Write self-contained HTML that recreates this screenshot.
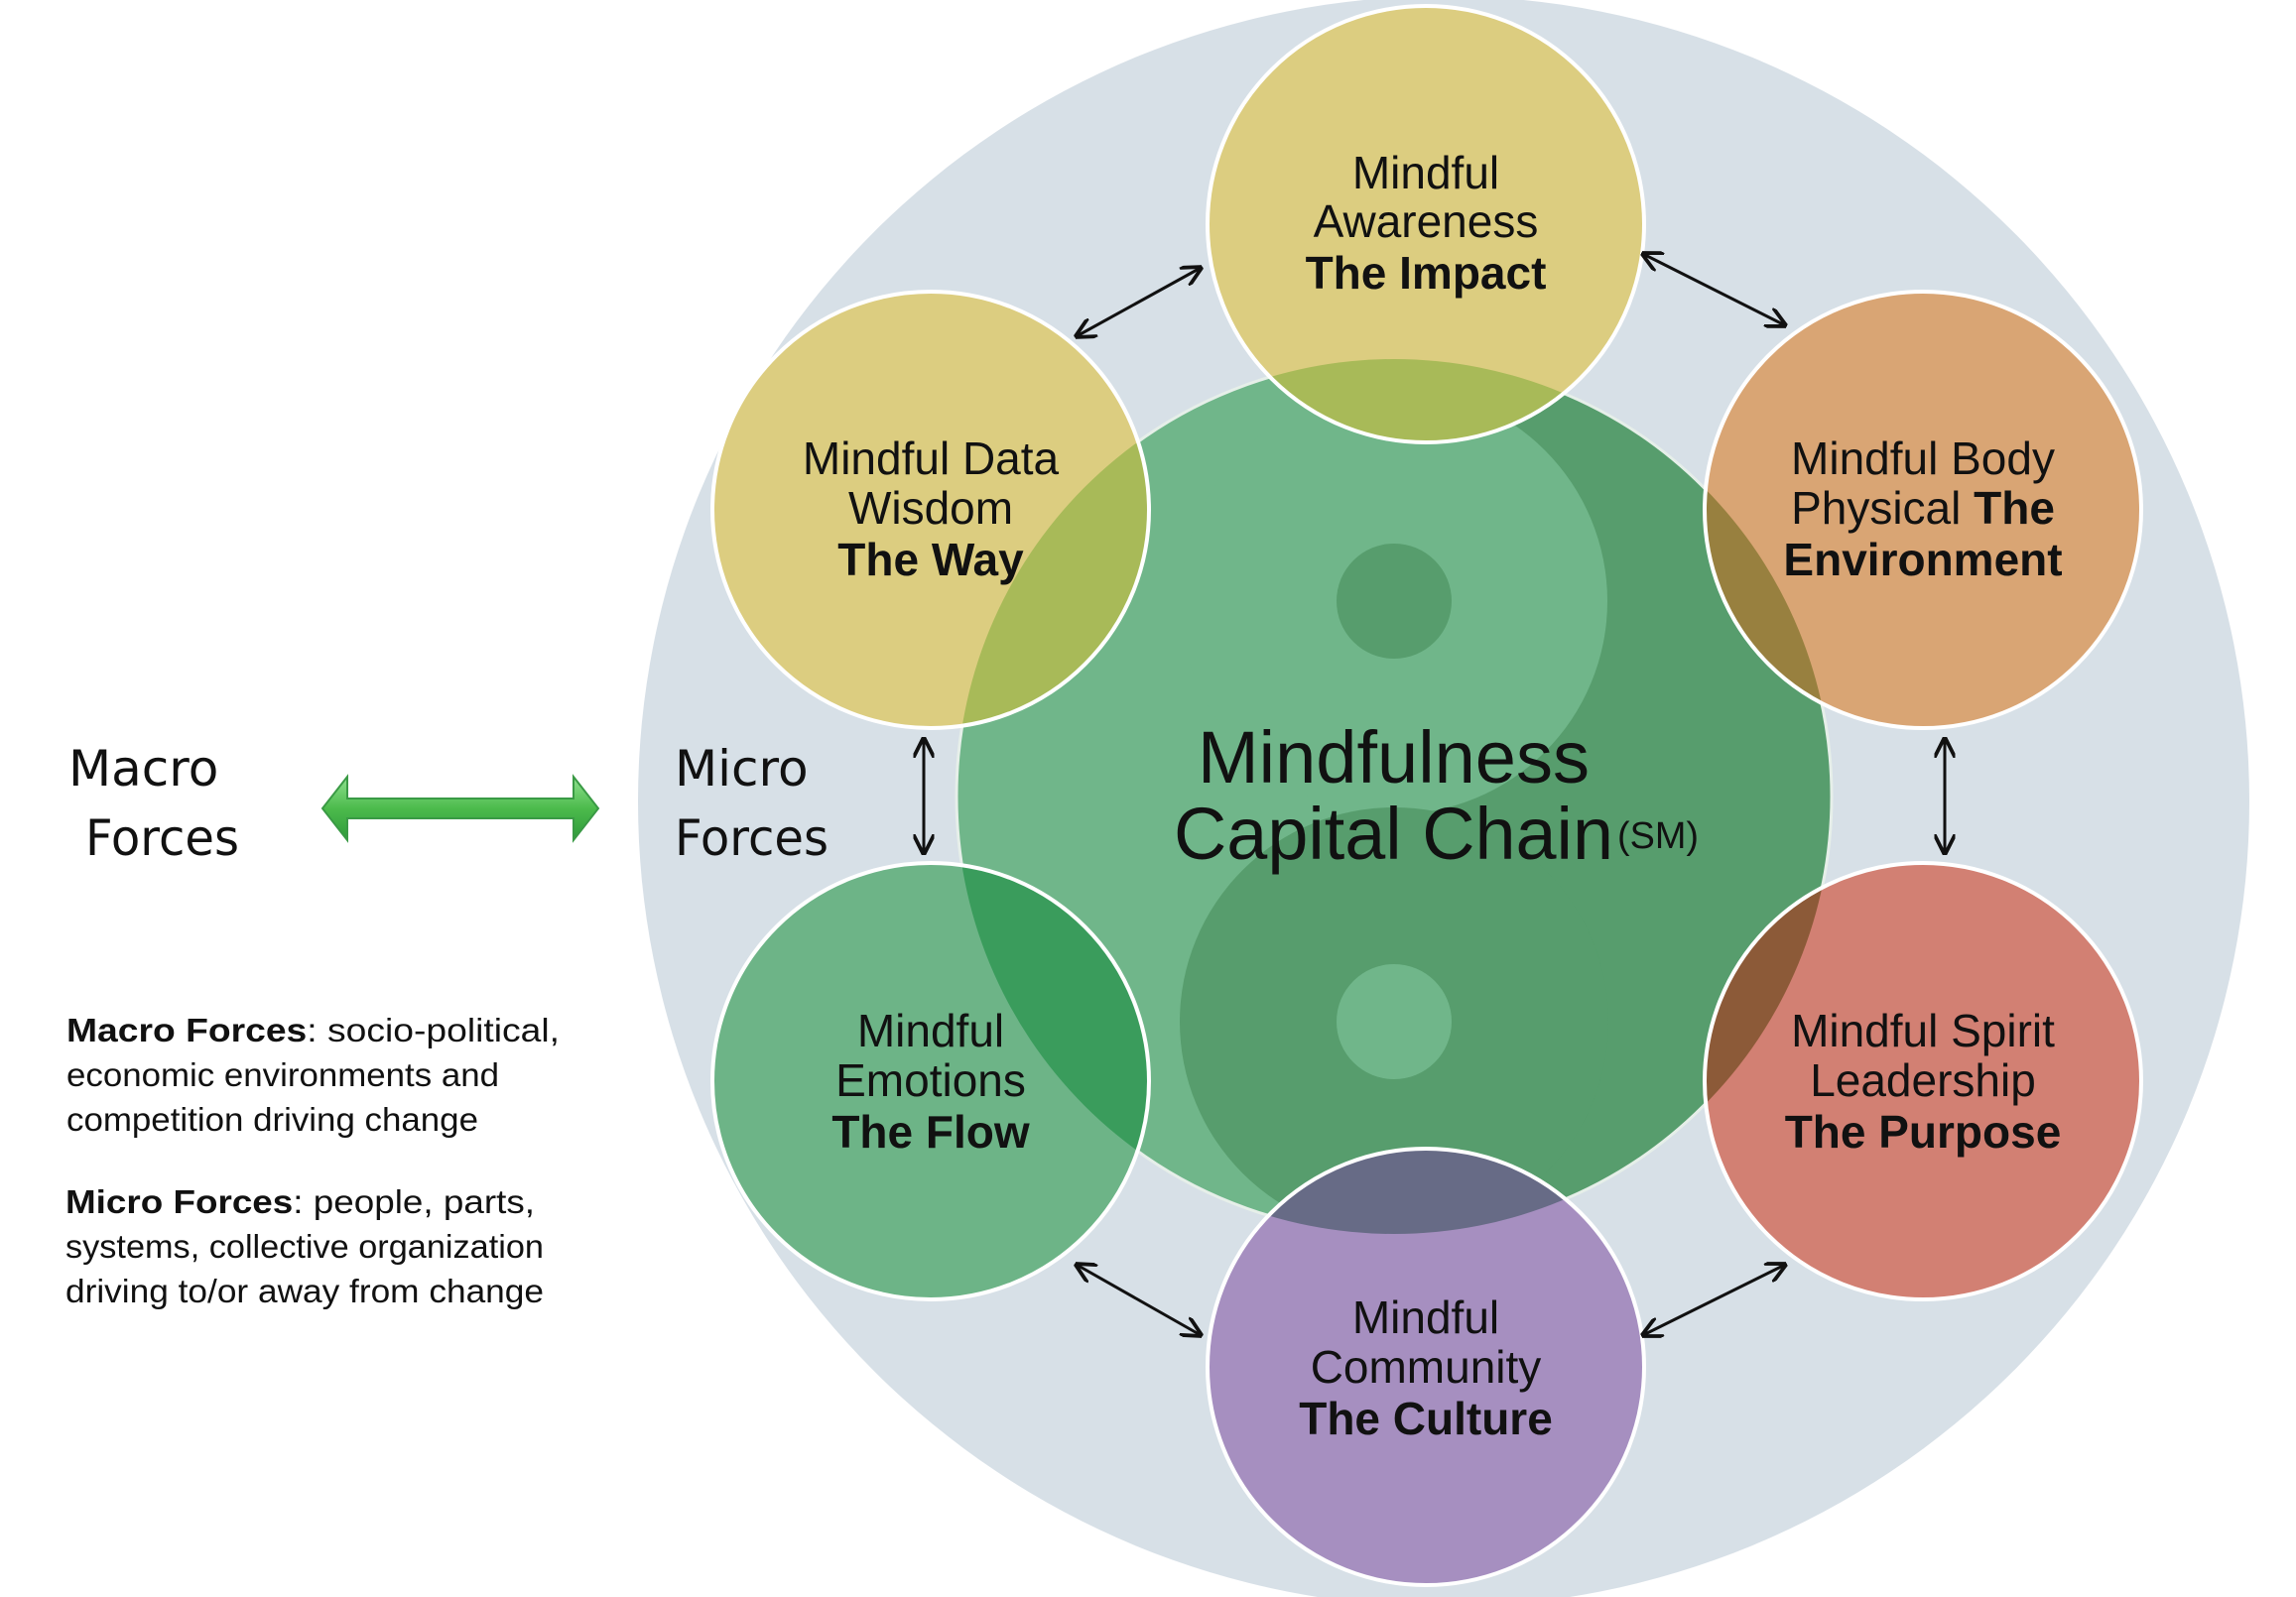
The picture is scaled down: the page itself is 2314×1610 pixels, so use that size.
<!DOCTYPE html>
<html><head><meta charset="utf-8"><style>
html,body{margin:0;padding:0;background:#fff}
svg{display:block}
text{font-family:"Liberation Sans",sans-serif}
.c{font-size:46px;text-anchor:middle;fill:#111}
.b{font-weight:bold}
.g{font-family:"DejaVu Sans","Liberation Sans",sans-serif;fill:#111}
</style></head><body>
<svg width="2314" height="1610" viewBox="0 0 2314 1610" xmlns="http://www.w3.org/2000/svg">
<defs>
<clipPath id="big"><circle cx="1405" cy="803" r="441"/></clipPath>
<linearGradient id="ga" x1="0" y1="0" x2="0" y2="1">
<stop offset="0" stop-color="#8fe08f"/><stop offset="0.5" stop-color="#4cbb4c"/><stop offset="1" stop-color="#2f9a3a"/>
</linearGradient>
<marker id="ah" viewBox="0 0 10 10" refX="9" refY="5" markerWidth="7" markerHeight="7" orient="auto-start-reverse">
<path d="M0,0 L10,5 L0,10" fill="none" stroke="#111" stroke-width="1.8"/>
</marker>
</defs>
<circle cx="1455" cy="808" r="812" fill="#d7e0e7"/>
<g clip-path="url(#big)">
<rect x="960" y="360" width="900" height="890" fill="#579d6d"/>
<rect x="960" y="360" width="445" height="890" fill="#70b68a"/>
<circle cx="1405" cy="606" r="215" fill="#70b68a"/>
<circle cx="1405" cy="1030" r="216" fill="#579d6d"/>
<circle cx="1405" cy="606" r="58" fill="#579d6d"/>
<circle cx="1405" cy="1030" r="58" fill="#70b68a"/>
</g>
<circle cx="1405" cy="803" r="441" fill="none" stroke="#e6efe9" stroke-width="3"/>
<!-- small circles -->
<g>
<circle cx="1437" cy="226" r="220" fill="#dccd80"/>
<circle cx="938" cy="514" r="220" fill="#dccd80"/>
<circle cx="1938" cy="514" r="220" fill="#d9a574"/>
<circle cx="938" cy="1090" r="220" fill="#6db487"/>
<circle cx="1938" cy="1090" r="220" fill="#d28073"/>
<circle cx="1437" cy="1378" r="220" fill="#a68fc0"/>
</g>
<!-- overlaps -->
<g clip-path="url(#big)">
<circle cx="1437" cy="226" r="220" fill="#a8ba58"/>
<circle cx="938" cy="514" r="220" fill="#a8ba58"/>
<circle cx="1938" cy="514" r="220" fill="#98803f"/>
<circle cx="938" cy="1090" r="220" fill="#3a9c5c"/>
<circle cx="1938" cy="1090" r="220" fill="#8c5a38"/>
<circle cx="1437" cy="1378" r="220" fill="#676b86"/>
</g>
<g fill="none" stroke="#fff" stroke-width="4">
<circle cx="1437" cy="226" r="220"/>
<circle cx="938" cy="514" r="220"/>
<circle cx="1938" cy="514" r="220"/>
<circle cx="938" cy="1090" r="220"/>
<circle cx="1938" cy="1090" r="220"/>
<circle cx="1437" cy="1378" r="220"/>
</g>
<g stroke="#111" stroke-width="3" marker-start="url(#ah)" marker-end="url(#ah)">
<line x1="1085" y1="339" x2="1210" y2="270"/>
<line x1="1656" y1="256" x2="1799" y2="328"/>
<line x1="931" y1="745" x2="931" y2="860"/>
<line x1="1960" y1="745" x2="1960" y2="860"/>
<line x1="1085" y1="1275" x2="1210" y2="1346"/>
<line x1="1656" y1="1346" x2="1799" y2="1275"/>
</g>
<text class="c" x="1437" y="190">Mindful</text>
<text class="c" x="1437" y="239">Awareness</text>
<text class="c b" x="1437" y="291">The Impact</text>

<text class="c" x="938" y="478">Mindful Data</text>
<text class="c" x="938" y="528">Wisdom</text>
<text class="c b" x="938" y="580">The Way</text>

<text class="c" x="1938" y="478">Mindful Body</text>
<text class="c" x="1938" y="528">Physical <tspan class="b">The</tspan></text>
<text class="c b" x="1938" y="580">Environment</text>

<text class="c" x="938" y="1055">Mindful</text>
<text class="c" x="938" y="1105">Emotions</text>
<text class="c b" x="938" y="1157">The Flow</text>

<text class="c" x="1938" y="1055">Mindful Spirit</text>
<text class="c" x="1938" y="1105">Leadership</text>
<text class="c b" x="1938" y="1157">The Purpose</text>

<text class="c" x="1437" y="1344">Mindful</text>
<text class="c" x="1437" y="1394">Community</text>
<text class="c b" x="1437" y="1446">The Culture</text>

<text x="1207" y="789" font-size="74" textLength="395" lengthAdjust="spacingAndGlyphs" fill="#111">Mindfulness</text>
<text x="1183" y="866" font-size="74" textLength="443" lengthAdjust="spacingAndGlyphs" fill="#111">Capital Chain</text>
<text x="1630" y="855" font-size="38" textLength="82" lengthAdjust="spacingAndGlyphs" fill="#111">(SM)</text>

<text class="g" x="69" y="792" font-size="50">Macro</text>
<text class="g" x="86" y="862" font-size="50" textLength="155" lengthAdjust="spacingAndGlyphs">Forces</text>
<text class="g" x="680" y="792" font-size="50">Micro</text>
<text class="g" x="680" y="862" font-size="50" textLength="155" lengthAdjust="spacingAndGlyphs">Forces</text>
<path d="M325,815 L350,783 L350,805 L578,805 L578,783 L603,815 L578,847 L578,825 L350,825 L350,847 Z" fill="url(#ga)" stroke="#3a9a45" stroke-width="2"/>

<g class="g" font-size="33">
<text x="67" y="1050" textLength="497" lengthAdjust="spacingAndGlyphs"><tspan font-weight="bold">Macro Forces</tspan>: socio-political,</text>
<text x="67" y="1095" textLength="436" lengthAdjust="spacingAndGlyphs">economic environments and</text>
<text x="67" y="1140" textLength="415" lengthAdjust="spacingAndGlyphs">competition driving change</text>
<text x="66" y="1223" textLength="473" lengthAdjust="spacingAndGlyphs"><tspan font-weight="bold">Micro Forces</tspan>: people, parts,</text>
<text x="66" y="1268" textLength="482" lengthAdjust="spacingAndGlyphs">systems, collective organization</text>
<text x="66" y="1313" textLength="482" lengthAdjust="spacingAndGlyphs">driving to/or away from change</text>
</g>
</svg>
</body></html>
